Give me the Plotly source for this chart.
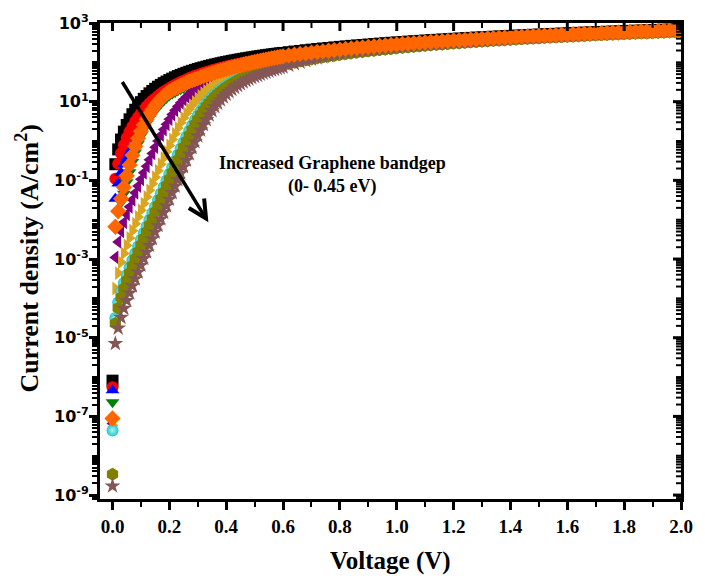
import math
import plotly.graph_objects as go

# Bias voltage (V)
voltage = [
    0.00, 0.01, 0.02, 0.03, 0.04, 0.05, 0.06, 0.07, 0.08, 0.09,
    0.10, 0.11, 0.12, 0.13, 0.14, 0.15, 0.16, 0.17, 0.18, 0.19,
    0.20, 0.21, 0.22, 0.23, 0.24, 0.25, 0.26, 0.27, 0.28, 0.29,
    0.30, 0.31, 0.32, 0.33, 0.34, 0.35, 0.36, 0.37, 0.38, 0.39,
    0.40, 0.41, 0.42, 0.43, 0.44, 0.45, 0.46, 0.47, 0.48, 0.49,
    0.50, 0.51, 0.52, 0.53, 0.54, 0.55, 0.56, 0.57, 0.58, 0.59, 0.60,
    0.62, 0.64, 0.66, 0.68, 0.70, 0.72, 0.74, 0.76, 0.78, 0.80,
    0.82, 0.84, 0.86, 0.88, 0.90, 0.92, 0.94, 0.96, 0.98, 1.00,
    1.02, 1.04, 1.06, 1.08, 1.10, 1.12, 1.14, 1.16, 1.18, 1.20,
    1.22, 1.24, 1.26, 1.28, 1.30, 1.32, 1.34, 1.36, 1.38, 1.40,
    1.42, 1.44, 1.46, 1.48, 1.50, 1.52, 1.54, 1.56, 1.58, 1.60,
    1.62, 1.64, 1.66, 1.68, 1.70, 1.72, 1.74, 1.76, 1.78, 1.80,
    1.82, 1.84, 1.86, 1.88, 1.90, 1.92, 1.94, 1.96, 1.98, 2.00,
]

# Current density (A/cm^2) for each graphene bandgap
j_eg_000 = [
    8.1e-7,
    0.257, 0.612, 1.09, 1.73, 2.55, 3.56, 4.79, 6.23, 7.88, 9.73,
    11.8, 13.9, 16.3, 18.7, 21.3, 24.0, 26.7, 29.6, 32.5, 35.5,
    38.5, 41.6, 44.7, 47.8, 51.1, 54.3, 57.6, 60.9, 64.2, 67.5,
    70.9, 74.2, 77.6, 81.1, 84.5, 87.9, 91.4, 94.9, 98.4, 101.9,
    105.4, 108.9, 112.4, 115.9, 119.5, 123.0, 126.6, 130.2, 133.7, 137.3,
    140.9, 144.5, 148.1, 151.7, 155.3, 158.9, 162.6, 166.2, 169.8, 173.4,
    181, 188, 195, 203, 210, 217, 225, 232, 239, 247,
    254, 262, 269, 276, 284, 291, 299, 306, 314, 321,
    329, 336, 343, 351, 358, 366, 373, 381, 388, 396,
    403, 411, 418, 426, 433, 441, 448, 456, 463, 471,
    479, 486, 494, 501, 509, 516, 524, 531, 539, 546,
    554, 562, 569, 577, 584, 592, 599, 607, 614, 622,
    630, 637, 645, 652, 660, 668, 675, 683, 690, 698,
]
j_eg_005 = [
    5.5e-7,
    0.110, 0.263, 0.490, 0.794, 1.21, 1.71, 2.35, 3.12, 4.02, 5.06,
    6.25, 7.51, 8.97, 10.5, 12.1, 13.9, 15.8, 17.8, 19.8, 22.0,
    24.3, 26.6, 29.1, 31.5, 34.2, 36.9, 39.7, 42.6, 45.3, 47.9,
    50.8, 53.6, 56.5, 59.5, 62.5, 65.5, 68.6, 71.6, 74.8, 78.0,
    81.2, 84.3, 87.4, 90.6, 93.9, 97.2, 100.5, 103.9, 107.2, 110.7,
    114.1, 117.6, 121.1, 124.7, 128.3, 131.9, 135.6, 139.3, 143.0, 146.7,
    153, 160, 166, 173, 179, 186, 193, 199, 206, 213,
    220, 226, 233, 240, 247, 254, 261, 268, 275, 282,
    289, 296, 303, 311, 318, 325, 332, 340, 347, 354,
    362, 369, 376, 384, 391, 399, 406, 414, 422, 429,
    437, 445, 452, 460, 468, 475, 483, 491, 499, 507,
    515, 523, 531, 539, 547, 555, 563, 571, 579, 587,
    595, 603, 612, 620, 628, 637, 645, 653, 662, 670,
]
j_eg_010 = [
    4.6e-7,
    0.0339, 0.0832, 0.155, 0.258, 0.36, 0.50, 0.66, 0.92, 1.32, 1.93,
    2.70, 3.75, 5.03, 6.58, 8.31, 10.2, 12.4, 14.5, 16.7, 18.7,
    20.6, 22.5, 24.6, 26.6, 28.8, 31.2, 33.6, 35.9, 38.2, 40.5,
    43.2, 45.8, 48.6, 51.5, 54.4, 57.4, 60.5, 63.4, 66.6, 69.9,
    73.2, 76.4, 79.6, 83.0, 86.5, 90.1, 93.7, 97.3, 101.0, 104.9,
    108.7, 112.7, 116.6, 120.7, 124.8, 129.1, 133.4, 137.7, 142.1, 146.6,
    155, 162, 169, 175, 182, 190, 197, 203, 211, 217,
    226, 233, 241, 248, 255, 264, 271, 278, 286, 294,
    302, 309, 317, 325, 333, 340, 347, 355, 363, 371,
    378, 386, 394, 402, 409, 417, 424, 433, 440, 448,
    455, 464, 472, 479, 487, 494, 503, 510, 518, 525,
    534, 541, 549, 556, 564, 573, 580, 588, 595, 604,
    611, 619, 627, 635, 643, 650, 658, 665, 674, 682,
]
j_eg_015 = [
    2.3e-7,
    0.00591, 0.0146, 0.0272, 0.0458, 0.089, 0.160, 0.291, 0.511, 0.856, 1.34,
    1.98, 2.79, 3.81, 5.00, 6.00, 7.40, 9.00, 10.6, 12.4, 14.4,
    15.9, 17.4, 19.1, 20.6, 22.4, 24.2, 26.1, 27.9, 29.7, 31.4,
    33.5, 35.6, 37.8, 41.0, 44.4, 47.9, 51.7, 55.4, 58.9, 62.5,
    66.1, 69.7, 73.4, 76.6, 79.8, 83.1, 86.5, 89.8, 93.2, 96.7,
    100.2, 103.9, 107.5, 111.3, 115.1, 119.0, 123.0, 127.0, 131.1, 135.2,
    145, 152, 159, 167, 174, 181, 188, 196, 203, 210,
    218, 225, 232, 240, 247, 255, 262, 269, 277, 284,
    292, 299, 307, 314, 322, 329, 336, 344, 351, 359,
    366, 374, 381, 389, 396, 404, 411, 419, 426, 434,
    441, 449, 456, 464, 471, 479, 487, 494, 502, 509,
    517, 524, 532, 539, 547, 554, 562, 570, 577, 585,
    592, 600, 607, 615, 623, 630, 638, 645, 653, 660,
]
j_eg_020 = [
    8.9e-8,
    0.00663, 0.0164, 0.034, 0.067, 0.130, 0.247, 0.437, 0.734, 1.17, 1.77,
    2.57, 3.57, 4.79, 6.27, 7.91, 9.71, 11.8, 13.8, 16.0, 18.0,
    19.9, 21.8, 23.9, 25.8, 28.0, 30.3, 32.6, 34.9, 37.1, 39.3,
    41.9, 44.5, 47.2, 50.0, 52.8, 55.7, 58.7, 61.6, 64.7, 67.9,
    71.1, 74.2, 77.3, 80.6, 84.0, 87.5, 91.0, 94.5, 98.1, 101.8,
    105.5, 109.4, 113.2, 117.2, 121.2, 125.3, 129.5, 133.7, 138.0, 142.3,
    150, 157, 164, 170, 177, 184, 191, 197, 205, 211,
    219, 226, 234, 241, 248, 256, 263, 270, 278, 285,
    293, 300, 308, 315, 323, 330, 337, 345, 352, 360,
    367, 375, 382, 390, 397, 405, 412, 420, 427, 435,
    442, 450, 458, 465, 473, 480, 488, 495, 503, 510,
    518, 525, 533, 540, 548, 556, 563, 571, 578, 586,
    593, 601, 609, 616, 624, 631, 639, 646, 654, 662,
]
j_eg_025 = [
    6.6e-8,
    0.00110, 0.00272, 0.00509, 0.00858, 0.0137, 0.0212, 0.0322, 0.0483, 0.0718, 0.106,
    0.156, 0.229, 0.334, 0.484, 0.698, 0.995, 1.41, 1.95, 2.67, 3.59,
    4.71, 6.05, 7.60, 9.36, 11.3, 13.4, 15.7, 18.1, 20.7, 23.3,
    26.1, 28.9, 31.8, 34.7, 37.7, 40.8, 43.9, 47.1, 50.3, 53.5,
    56.7, 60.0, 63.3, 66.7, 70.0, 73.4, 76.8, 80.2, 83.6, 87.1,
    90.5, 94.0, 97.5, 101.0, 104.5, 108.0, 111.5, 115.1, 118.6, 122.1,
    129, 136, 144, 151, 158, 165, 173, 180, 187, 194,
    202, 209, 216, 224, 231, 238, 246, 253, 261, 268,
    275, 283, 290, 298, 305, 313, 320, 328, 335, 342,
    350, 357, 365, 372, 380, 387, 395, 402, 410, 417,
    425, 432, 440, 447, 455, 462, 470, 478, 485, 493,
    500, 508, 515, 523, 530, 538, 546, 553, 561, 568,
    576, 583, 591, 598, 606, 614, 621, 629, 636, 644,
]
j_eg_030 = [
    5.9e-8,
    1.78e-4, 4.40e-4, 8.25e-4, 1.39e-3, 2.22e-3, 3.44e-3, 5.24e-3, 7.87e-3, 0.0117, 0.0174,
    0.0257, 0.0379, 0.0557, 0.0818, 0.120, 0.175, 0.256, 0.372, 0.537, 0.771,
    1.10, 1.54, 2.13, 2.90, 3.87, 5.05, 6.45, 8.06, 9.87, 11.9,
    14.0, 16.4, 18.8, 21.4, 24.1, 26.8, 29.7, 32.6, 35.5, 38.6,
    41.6, 44.8, 47.9, 51.1, 54.4, 57.6, 60.9, 64.2, 67.6, 70.9,
    74.3, 77.7, 81.1, 84.6, 88.0, 91.5, 94.9, 98.4, 101.9, 105.4,
    112, 120, 127, 134, 141, 148, 155, 163, 170, 177,
    184, 192, 199, 206, 214, 221, 228, 236, 243, 250,
    258, 265, 273, 280, 288, 295, 302, 310, 317, 325,
    332, 340, 347, 355, 362, 370, 377, 385, 392, 400,
    407, 415, 422, 430, 437, 445, 452, 460, 467, 475,
    482, 490, 497, 505, 513, 520, 528, 535, 543, 550,
    558, 565, 573, 581, 588, 596, 603, 611, 618, 626,
]
j_eg_035 = [
    4.4e-8,
    3.17e-5, 7.83e-5, 1.47e-4, 2.47e-4, 3.95e-4, 6.12e-4, 9.31e-4, 1.40e-3, 2.09e-3, 3.10e-3,
    4.58e-3, 6.76e-3, 9.97e-3, 0.0147, 0.0215, 0.0316, 0.0465, 0.0681, 0.0998, 0.146,
    0.213, 0.310, 0.449, 0.646, 0.924, 1.31, 1.82, 2.50, 3.37, 4.44,
    5.73, 7.24, 8.96, 10.9, 13.0, 15.2, 17.6, 20.1, 22.7, 25.5,
    28.3, 31.1, 34.1, 37.1, 40.1, 43.2, 46.4, 49.6, 52.8, 56.0,
    59.3, 62.6, 65.9, 69.3, 72.7, 76.0, 79.5, 82.9, 86.3, 89.7,
    96.6, 104, 111, 118, 125, 132, 139, 146, 154, 161,
    168, 175, 183, 190, 197, 204, 212, 219, 227, 234,
    241, 249, 256, 263, 271, 278, 286, 293, 301, 308,
    315, 323, 330, 338, 345, 353, 360, 368, 375, 383,
    390, 398, 405, 413, 420, 428, 435, 443, 450, 458,
    465, 473, 481, 488, 496, 503, 511, 518, 526, 533,
    541, 548, 556, 564, 571, 579, 586, 594, 601, 609,
]
j_eg_040 = [
    3.4e-9,
    2.30e-5, 5.67e-5, 1.06e-4, 1.79e-4, 2.86e-4, 4.43e-4, 6.74e-4, 1.01e-3, 1.51e-3, 2.24e-3,
    3.32e-3, 4.90e-3, 7.22e-3, 0.0106, 0.0156, 0.0229, 0.0337, 0.0494, 0.0725, 0.106,
    0.155, 0.226, 0.329, 0.476, 0.685, 0.977, 1.38, 1.92, 2.63, 3.53,
    4.64, 5.96, 7.51, 9.25, 11.2, 13.3, 15.6, 18.0, 20.5, 23.2,
    25.9, 28.7, 31.6, 34.6, 37.6, 40.6, 43.7, 46.9, 50.1, 53.3,
    56.5, 59.8, 63.1, 66.5, 69.8, 73.2, 76.6, 80.0, 83.4, 86.8,
    93.7, 101, 108, 115, 122, 129, 136, 143, 150, 158,
    165, 172, 180, 187, 194, 201, 209, 216, 223, 231,
    238, 246, 253, 260, 268, 275, 283, 290, 297, 305,
    312, 320, 327, 335, 342, 350, 357, 365, 372, 380,
    387, 395, 402, 410, 417, 425, 432, 440, 447, 455,
    462, 470, 477, 485, 492, 500, 508, 515, 523, 530,
    538, 545, 553, 560, 568, 576, 583, 591, 598, 606,
]
j_eg_045 = [
    1.7e-9,
    7.10e-6, 1.75e-5, 3.28e-5, 5.54e-5, 8.84e-5, 1.37e-4, 2.08e-4, 3.13e-4, 4.67e-4, 6.93e-4,
    1.03e-3, 1.51e-3, 2.23e-3, 3.28e-3, 4.83e-3, 7.11e-3, 0.0104, 0.0153, 0.0225, 0.0330,
    0.0485, 0.0711, 0.104, 0.152, 0.222, 0.323, 0.467, 0.672, 0.959, 1.35,
    1.89, 2.59, 3.48, 4.57, 5.89, 7.42, 9.15, 11.1, 13.2, 15.5,
    17.9, 20.4, 23.0, 25.8, 28.6, 31.5, 34.4, 37.4, 40.5, 43.6,
    46.7, 49.9, 53.1, 56.4, 59.7, 63.0, 66.3, 69.7, 73.0, 76.4,
    84.3, 92.9, 101.5, 110.4, 119.6, 129, 138, 147, 156, 166,
    174, 182, 191, 198, 206, 213, 222, 229, 236, 245,
    252, 261, 268, 276, 284, 292, 300, 307, 315, 323,
    331, 339, 347, 355, 363, 371, 378, 387, 394, 403,
    410, 419, 426, 435, 442, 451, 458, 466, 474, 482,
    490, 498, 506, 514, 522, 530, 539, 546, 554, 562,
    570, 578, 586, 594, 602, 611, 618, 627, 634, 642,
]

# axis ticks
labelled_exponents = [-9, -7, -5, -3, -1, 1, 3]
plain_exponents = [-8, -6, -4, -2, 0, 2]
x_major = [0.0, 0.2, 0.4, 0.6, 0.8, 1.0, 1.2, 1.4, 1.6, 1.8, 2.0]
x_minor = [0.1, 0.3, 0.5, 0.7, 0.9, 1.1, 1.3, 1.5, 1.7, 1.9]
x_range = [-0.044, 2.0]
y_log_range = [-9.1, 3.0]

# trend arrow: tail and head in data units (V, A/cm^2)
arrow_tail = (0.0345, 31.6)
arrow_head = (0.329, 0.0107)

# (name, values, symbol, colour, size) in drawing order; orange diamonds end on top
series = [
    ("0.00 eV", j_eg_000, "square", "#000000", 12),
    ("0.05 eV", j_eg_005, "circle", "#FF0000", 12),
    ("0.10 eV", j_eg_010, "triangle-up", "#0000FF", 12),
    ("0.15 eV", j_eg_015, "triangle-down", "#008000", 12),
    ("0.25 eV", j_eg_025, "triangle-left", "#800080", 12),
    ("0.30 eV", j_eg_030, "triangle-right", "#DAA520", 12),
    ("0.35 eV", j_eg_035, "circle", "#22C8CC", 12),
    ("0.40 eV", j_eg_040, "hexagon", "#808000", 13),
    ("0.45 eV", j_eg_045, "star", "#845656", 12),
    ("0.20 eV", j_eg_020, "diamond", "#FF6600", 12.5),
]

fig = go.Figure()
for name, vals, sym, col, size in series:
    marker = dict(symbol=sym, color=col, size=size, line=dict(width=0))
    if name == "0.35 eV":
        marker["gradient"] = dict(type="radial", color="#A8F4F4")
    fig.add_trace(go.Scatter(
        x=voltage, y=vals, mode="markers", name=name,
        marker=marker, showlegend=False, hoverinfo="skip",
    ))

serif_bold = dict(family="Liberation Serif", color="black", weight="bold")
y_minor_vals = ([10.0 ** e for e in plain_exponents]
                + [k * 10.0 ** e for e in range(-10, 3) for k in range(2, 10)])

fig.update_layout(
    width=705, height=576,
    margin=dict(l=100, r=13, t=22, b=77),
    plot_bgcolor="white", paper_bgcolor="white",
    showlegend=False,
    xaxis=dict(
        range=x_range, tickmode="array", tickvals=x_major,
        ticktext=[f"{v:.1f}" for v in x_major],
        tickfont=dict(size=19, **serif_bold),
        showline=True, mirror=True, linewidth=3, linecolor="black",
        showgrid=False, zeroline=False,
        ticks="outside", ticklen=8, tickwidth=3, tickcolor="black",
        minor=dict(tickmode="array", tickvals=x_minor, ticks="outside",
                   ticklen=5, tickwidth=2, tickcolor="black"),
    ),
    yaxis=dict(
        type="log", range=y_log_range, tickmode="array",
        tickvals=[10.0 ** e for e in labelled_exponents],
        ticktext=[f"10<sup>{e}</sup>" for e in labelled_exponents],
        tickfont=dict(family="DejaVu Sans", size=16, color="black", weight="bold"),
        ticklabelstandoff=-3,
        showline=True, mirror=True, linewidth=3, linecolor="black",
        showgrid=False, zeroline=False,
        ticks="outside", ticklen=8, tickwidth=3, tickcolor="black",
        minor=dict(tickmode="array", tickvals=y_minor_vals, ticks="outside",
                   ticklen=5, tickwidth=2, tickcolor="black"),
    ),
)

# inward ticks along the top and right frame
tick_style = dict(type="line", layer="above")
for v in x_major + x_minor:
    length = 8 if v in x_major else 5
    fig.add_shape(**tick_style, xref="x", yref="paper", x0=v, x1=v,
                  ysizemode="pixel", yanchor=1, y0=0, y1=-length,
                  line=dict(color="black", width=3 if length == 8 else 2))
for e in labelled_exponents:
    fig.add_shape(**tick_style, xref="paper", yref="y", y0=10.0 ** e, y1=10.0 ** e,
                  xsizemode="pixel", xanchor=1, x0=0, x1=-8,
                  line=dict(color="black", width=3))
for v in y_minor_vals:
    if y_log_range[0] < math.log10(v) < y_log_range[1]:
        fig.add_shape(**tick_style, xref="paper", yref="y", y0=v, y1=v,
                      xsizemode="pixel", xanchor=1, x0=0, x1=-5,
                      line=dict(color="black", width=2))

# trend arrow: shaft plus an open chevron head (head drawn in pixels)
fig.add_shape(type="line", xref="x", yref="y",
              x0=arrow_tail[0], y0=arrow_tail[1], x1=arrow_head[0], y1=arrow_head[1],
              line=dict(color="black", width=3.5))
fig.add_shape(type="path", xref="x", yref="y",
              xsizemode="pixel", ysizemode="pixel",
              xanchor=arrow_head[0], yanchor=arrow_head[1],
              path="M -17.2,10.5 L 0,0 L -1.9,20.0",
              line=dict(color="black", width=4))

fig.add_annotation(
    text="Voltage (V)", xref="paper", yref="paper", x=0.5, y=0,
    xanchor="center", yanchor="middle", yshift=-62, showarrow=False,
    font=dict(size=25, **serif_bold),
)
fig.add_annotation(
    text="Current density (A/cm<sup>2</sup>)", xref="paper", yref="paper",
    x=0, y=0.505, xanchor="center", yanchor="middle", xshift=-72,
    textangle=-90, showarrow=False, font=dict(size=26, **serif_bold),
)
fig.add_annotation(
    text="Increased Graphene bandgep<br>(0- 0.45 eV)",
    xref="paper", yref="paper", x=0.4003, y=0.680,
    xanchor="center", yanchor="middle", showarrow=False, align="center",
    font=dict(size=18, **serif_bold),
)

fig.write_html("out.html")
